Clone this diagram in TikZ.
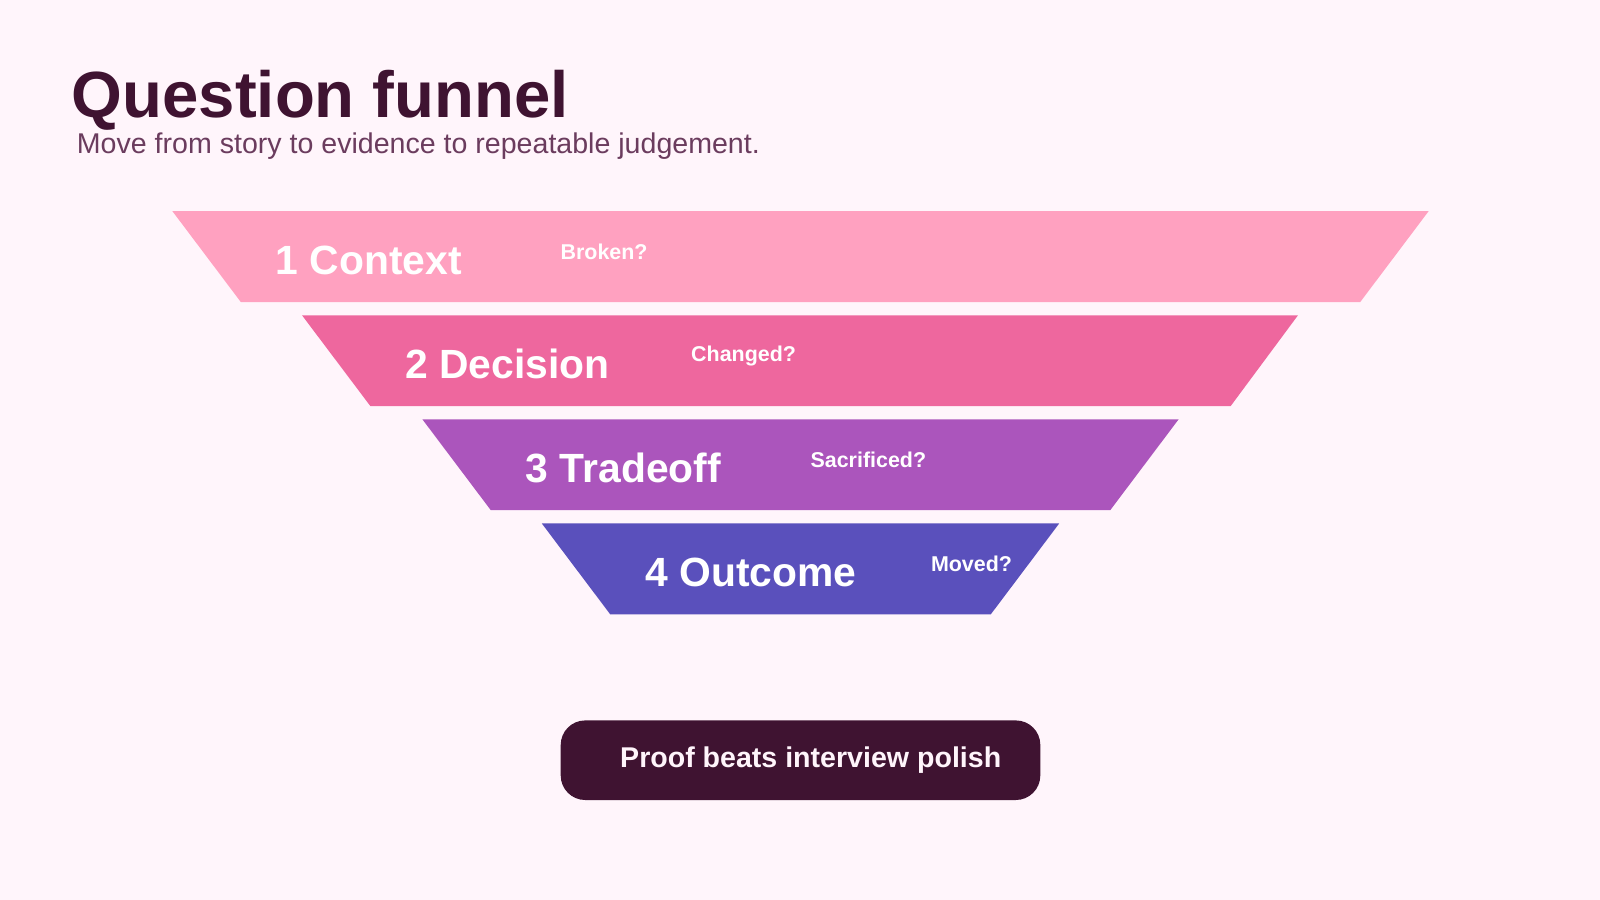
\documentclass[tikz,border=0pt]{standalone}
\usepackage{fontspec}
\setmainfont{Liberation Sans}
\definecolor{bg}{HTML}{FFF5FB}
\definecolor{dark}{HTML}{3F1331}
\definecolor{sub}{HTML}{6B3C5E}
\definecolor{c1}{HTML}{FFA1C0}
\definecolor{c2}{HTML}{EE679E}
\definecolor{c3}{HTML}{AB55BC}
\definecolor{c4}{HTML}{5A50BC}
\begin{document}
\begin{tikzpicture}[x=0.5pt,y=-0.5pt,
  lab/.style={anchor=west,text=white,font=\bfseries\fontsize{20}{24}\selectfont},
  q/.style={anchor=west,text=white,font=\bfseries\fontsize{10.5}{12}\selectfont}]
\fill[bg] (0,0) rectangle (1568,882);
\useasboundingbox (0,0) rectangle (1568,882);
\node[anchor=base west,inner sep=0,text=dark,font=\bfseries\fontsize{32}{38}\selectfont] (title) at (70,115) {Question funnel};
\node[anchor=base west,inner sep=0,text=sub,font=\fontsize{14}{17}\selectfont] (subtitle) at (75,150) {Move from story to evidence to repeatable judgement.};
\fill[c1] (169,207) -- (1400,207) -- (1333,296) -- (236,296) -- cycle;
\fill[c2] (296,309) -- (1272,309) -- (1206,398) -- (363,398) -- cycle;
\fill[c3] (414,411) -- (1155,411) -- (1088,500) -- (481,500) -- cycle;
\fill[c4] (531,513) -- (1038,513) -- (971,602) -- (598,602) -- cycle;
\node[lab,inner sep=0] (l1) at (270,255) {1 Context};
\node[lab,inner sep=0] (l2) at (397,357) {2 Decision};
\node[lab,inner sep=0] (l3) at (515,459) {3 Tradeoff};
\node[lab,inner sep=0] (l4) at (632,561) {4 Outcome};
\node[q,inner sep=0] (q1) at (549,247) {Broken?};
\node[q,inner sep=0] (q2) at (677,349) {Changed?};
\node[q,inner sep=0] (q3) at (794,451) {Sacrificed?};
\node[q,inner sep=0] (q4) at (912,553) {Moved?};
\node[fill=dark,rounded corners=12pt,minimum width=235pt,minimum height=39pt,text=bg,font=\bfseries\fontsize{14}{17}\selectfont] (btn) at (784.5,745) {\hspace{10pt}Proof beats interview polish};
\end{tikzpicture}
\end{document}
